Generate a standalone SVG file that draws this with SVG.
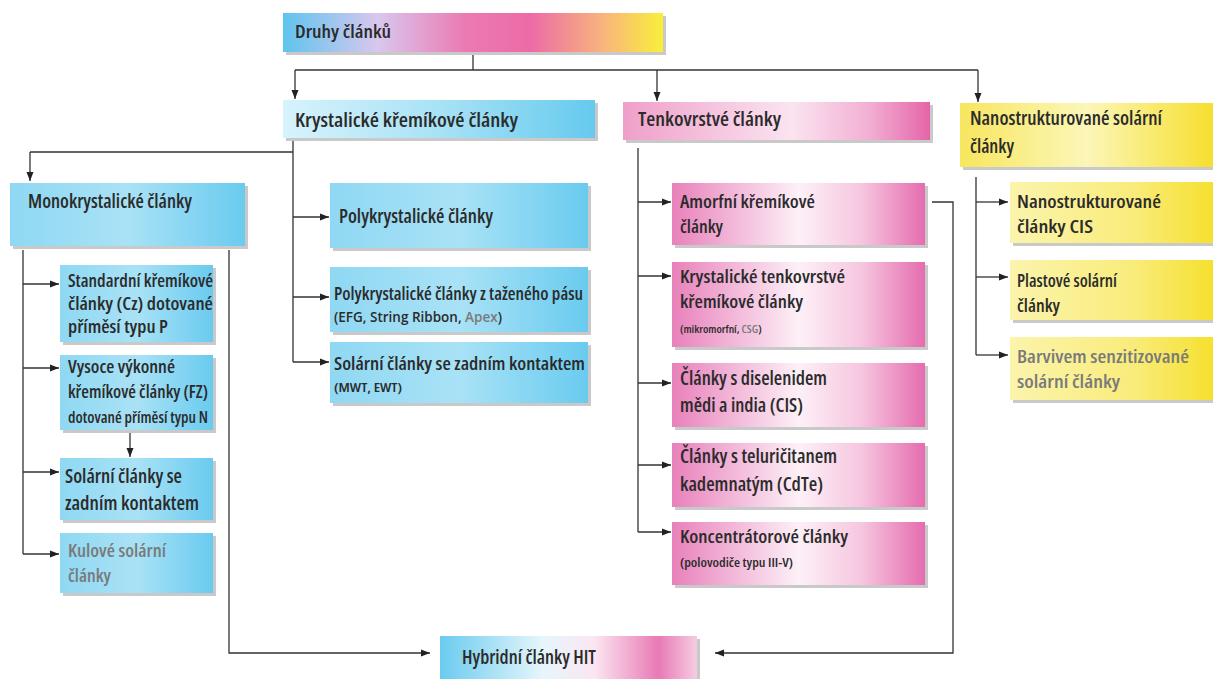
<svg xmlns="http://www.w3.org/2000/svg" width="1213" height="679" viewBox="0 0 1213 679">
<defs>
<style>
text{font-family:"Open Sans","Liberation Sans",sans-serif;font-weight:600;font-stretch:80%;fill:#2b2b2b}
.h{font-size:19px}
.t{font-size:18px}
.s{font-size:12.5px}
.g{fill:#7a7a7a}
.sh{fill:#c9c9c9}
.c{fill:none;stroke:#333;stroke-width:1.3}
</style>
<linearGradient id="gTop" x1="0" x2="1" y1="0" y2="0">
<stop offset="0" stop-color="#5fc4ee"/><stop offset="0.25" stop-color="#d9c7ee"/><stop offset="0.48" stop-color="#eb7ab3"/><stop offset="0.65" stop-color="#ec6ba7"/><stop offset="0.85" stop-color="#f9b77a"/><stop offset="1" stop-color="#f9ef3a"/>
</linearGradient>
<linearGradient id="gKry" x1="0" x2="1" y1="0" y2="0">
<stop offset="0" stop-color="#d7f3fc"/><stop offset="0.5" stop-color="#a8e2f6"/><stop offset="1" stop-color="#66caee"/>
</linearGradient>
<linearGradient id="gBlue" x1="0" x2="1" y1="0" y2="0">
<stop offset="0" stop-color="#8fd8f3"/><stop offset="0.5" stop-color="#a9e2f6"/><stop offset="1" stop-color="#6acbef"/>
</linearGradient>
<linearGradient id="gPinkH" x1="0" x2="1" y1="0" y2="0">
<stop offset="0" stop-color="#ef9fc9"/><stop offset="0.55" stop-color="#fbe4f0"/><stop offset="0.8" stop-color="#f2b0d3"/><stop offset="1" stop-color="#e465a9"/>
</linearGradient>
<linearGradient id="gPink" x1="0" x2="1" y1="0" y2="0">
<stop offset="0" stop-color="#e881bb"/><stop offset="0.5" stop-color="#fdf0f7"/><stop offset="0.75" stop-color="#f6c6df"/><stop offset="1" stop-color="#e56caf"/>
</linearGradient>
<linearGradient id="gYelH" x1="0" x2="1" y1="0" y2="0">
<stop offset="0" stop-color="#f7e65e"/><stop offset="0.5" stop-color="#fcf6b8"/><stop offset="1" stop-color="#f6df2e"/>
</linearGradient>
<linearGradient id="gYel" x1="0" x2="1" y1="0" y2="0">
<stop offset="0" stop-color="#fbf4ac"/><stop offset="0.6" stop-color="#f9ec7c"/><stop offset="1" stop-color="#f6e02f"/>
</linearGradient>
<linearGradient id="gHyb" x1="0" x2="1" y1="0" y2="0">
<stop offset="0" stop-color="#6acbef"/><stop offset="0.4" stop-color="#e6f6fc"/><stop offset="0.6" stop-color="#fbe6f1"/><stop offset="0.85" stop-color="#e87ab5"/><stop offset="1" stop-color="#f5cde2"/>
</linearGradient>
<marker id="ar" markerWidth="10" markerHeight="8" refX="9" refY="4" orient="auto" markerUnits="userSpaceOnUse">
<path d="M0,0.5 L9,4 L0,7.5 Z" fill="#222"/>
</marker>
</defs>

<g id="connectors">
<path class="c" d="M473,55 V70 M295,70 H978"/>
<path class="c" d="M295,70 V99" marker-end="url(#ar)"/>
<path class="c" d="M657,70 V101" marker-end="url(#ar)"/>
<path class="c" d="M978,70 V102" marker-end="url(#ar)"/>
<path class="c" d="M293,141 V362 M293,152 H30"/>
<path class="c" d="M30,152 V181" marker-end="url(#ar)"/>
<path class="c" d="M293,217 H329" marker-end="url(#ar)"/>
<path class="c" d="M293,297 H329" marker-end="url(#ar)"/>
<path class="c" d="M293,362 H329" marker-end="url(#ar)"/>
<path class="c" d="M23,250 V554"/>
<path class="c" d="M23,284 H59" marker-end="url(#ar)"/>
<path class="c" d="M23,368 H59" marker-end="url(#ar)"/>
<path class="c" d="M23,472 H59" marker-end="url(#ar)"/>
<path class="c" d="M23,554 H59" marker-end="url(#ar)"/>
<path class="c" d="M130,432 V457" marker-end="url(#ar)"/>
<path class="c" d="M229,250 V653 H430" marker-end="url(#ar)"/>
<path class="c" d="M638,148 V532"/>
<path class="c" d="M638,202 H671" marker-end="url(#ar)"/>
<path class="c" d="M638,276 H671" marker-end="url(#ar)"/>
<path class="c" d="M638,383 H671" marker-end="url(#ar)"/>
<path class="c" d="M638,465 H671" marker-end="url(#ar)"/>
<path class="c" d="M638,532 H671" marker-end="url(#ar)"/>
<path class="c" d="M932,202 H953 V653 H715" marker-end="url(#ar)"/>
<path class="c" d="M976,177 V355"/>
<path class="c" d="M976,202 H1008" marker-end="url(#ar)"/>
<path class="c" d="M976,277 H1008" marker-end="url(#ar)"/>
<path class="c" d="M976,355 H1008" marker-end="url(#ar)"/>
</g>

<g id="n-druhy">
<rect class="sh" x="286" y="16" width="380" height="39"/>
<rect x="283" y="13" width="380" height="39" fill="url(#gTop)"/>
<text class="h" x="295" y="38" style="font-size:18px" textLength="96" lengthAdjust="spacingAndGlyphs">Druhy článků</text>
</g>

<g id="n-krystalicke">
<rect class="sh" x="286" y="103" width="312" height="38"/>
<rect x="283" y="100" width="312" height="38" fill="url(#gKry)"/>
<text class="h" x="295" y="127" textLength="223" lengthAdjust="spacingAndGlyphs">Krystalické křemíkové články</text>
</g>

<g id="n-tenkovrstve">
<rect class="sh" x="626" y="105" width="307" height="38"/>
<rect x="623" y="102" width="307" height="38" fill="url(#gPinkH)"/>
<text class="h" x="638" y="126" textLength="143" lengthAdjust="spacingAndGlyphs">Tenkovrstvé články</text>
</g>

<g id="n-nano">
<rect class="sh" x="963" y="106" width="250" height="64"/>
<rect x="960" y="103" width="253" height="64" fill="url(#gYelH)"/>
<text class="h" x="970" y="125" textLength="192" lengthAdjust="spacingAndGlyphs">Nanostrukturované solární</text>
<text class="h" x="970" y="153" textLength="44" lengthAdjust="spacingAndGlyphs">články</text>
</g>

<g id="n-mono">
<rect class="sh" x="13" y="186" width="235" height="63"/>
<rect x="10" y="183" width="235" height="63" fill="url(#gBlue)"/>
<text class="h" x="28" y="208" textLength="164" lengthAdjust="spacingAndGlyphs">Monokrystalické články</text>
</g>

<g id="n-standardni">
<rect class="sh" x="63" y="268" width="153" height="77"/>
<rect x="60" y="265" width="153" height="77" fill="url(#gBlue)"/>
<text class="t" x="68" y="287" textLength="145" lengthAdjust="spacingAndGlyphs">Standardní křemíkové</text>
<text class="t" x="68" y="310" textLength="145" lengthAdjust="spacingAndGlyphs">články (Cz) dotované</text>
<text class="t" x="68" y="333" textLength="100" lengthAdjust="spacingAndGlyphs">příměsí typu P</text>
</g>

<g id="n-vysoce">
<rect class="sh" x="63" y="358" width="153" height="75"/>
<rect x="60" y="355" width="153" height="75" fill="url(#gBlue)"/>
<text class="t" x="68" y="373" textLength="107" lengthAdjust="spacingAndGlyphs">Vysoce výkonné</text>
<text class="t" x="68" y="398" textLength="140" lengthAdjust="spacingAndGlyphs">křemíkové články (FZ)</text>
<text class="t" x="68" y="423" style="font-size:16px" textLength="140" lengthAdjust="spacingAndGlyphs">dotované příměsí typu N</text>
</g>

<g id="n-solarni-mono">
<rect class="sh" x="63" y="461" width="153" height="62"/>
<rect x="60" y="458" width="153" height="62" fill="url(#gBlue)"/>
<text class="t" x="65" y="483" style="font-size:19px" textLength="117" lengthAdjust="spacingAndGlyphs">Solární články se</text>
<text class="t" x="65" y="510" style="font-size:19px" textLength="134" lengthAdjust="spacingAndGlyphs">zadním kontaktem</text>
</g>

<g id="n-kulove">
<rect class="sh" x="63" y="536" width="153" height="60"/>
<rect x="60" y="533" width="153" height="60" fill="url(#gBlue)"/>
<text class="t g" x="68" y="557" textLength="98" lengthAdjust="spacingAndGlyphs">Kulové solární</text>
<text class="t g" x="68" y="582" textLength="43" lengthAdjust="spacingAndGlyphs">články</text>
</g>

<g id="n-poly">
<rect class="sh" x="333" y="186" width="258" height="65"/>
<rect x="330" y="183" width="258" height="65" fill="url(#gBlue)"/>
<text class="t" x="339" y="223" style="font-size:19px" textLength="154" lengthAdjust="spacingAndGlyphs">Polykrystalické články</text>
</g>

<g id="n-poly-pas">
<rect class="sh" x="333" y="270" width="258" height="65"/>
<rect x="330" y="267" width="258" height="65" fill="url(#gBlue)"/>
<text class="t" x="334" y="300" textLength="249" lengthAdjust="spacingAndGlyphs">Polykrystalické články z taženého pásu</text>
<text class="s" x="334" y="322" style="font-size:13.5px;font-stretch:88%">(EFG, String Ribbon, <tspan class="g">Apex</tspan>)</text>
</g>

<g id="n-solarni-poly">
<rect class="sh" x="333" y="345" width="258" height="61"/>
<rect x="330" y="342" width="258" height="61" fill="url(#gBlue)"/>
<text class="t" x="334" y="370" textLength="251" lengthAdjust="spacingAndGlyphs">Solární články se zadním kontaktem</text>
<text class="s" x="334" y="392" textLength="68" lengthAdjust="spacingAndGlyphs">(MWT, EWT)</text>
</g>

<g id="n-amorfni">
<rect class="sh" x="675" y="186" width="253" height="62"/>
<rect x="672" y="183" width="253" height="62" fill="url(#gPink)"/>
<text class="t" x="680" y="208" textLength="135" lengthAdjust="spacingAndGlyphs">Amorfní křemíkové</text>
<text class="t" x="680" y="233" textLength="43" lengthAdjust="spacingAndGlyphs">články</text>
</g>

<g id="n-kryst-tenko">
<rect class="sh" x="675" y="265" width="253" height="85"/>
<rect x="672" y="262" width="253" height="85" fill="url(#gPink)"/>
<text class="t" x="680" y="283" textLength="165" lengthAdjust="spacingAndGlyphs">Krystalické tenkovrstvé</text>
<text class="t" x="680" y="308" textLength="123" lengthAdjust="spacingAndGlyphs">křemíkové články</text>
<text class="s" x="680" y="333" style="font-size:11.5px;font-stretch:75%">(mikromorfní, <tspan class="g">CSG</tspan>)</text>
</g>

<g id="n-cis">
<rect class="sh" x="675" y="366" width="253" height="64"/>
<rect x="672" y="363" width="253" height="64" fill="url(#gPink)"/>
<text class="t" x="680" y="385" style="font-size:19px" textLength="147" lengthAdjust="spacingAndGlyphs">Články s diselenidem</text>
<text class="t" x="680" y="412" style="font-size:19px" textLength="123" lengthAdjust="spacingAndGlyphs">mědi a india (CIS)</text>
</g>

<g id="n-cdte">
<rect class="sh" x="675" y="446" width="253" height="64"/>
<rect x="672" y="443" width="253" height="64" fill="url(#gPink)"/>
<text class="t" x="680" y="463" style="font-size:19px" textLength="157" lengthAdjust="spacingAndGlyphs">Články s teluričitanem</text>
<text class="t" x="680" y="491" style="font-size:19px" textLength="143" lengthAdjust="spacingAndGlyphs">kademnatým (CdTe)</text>
</g>

<g id="n-koncentr">
<rect class="sh" x="675" y="525" width="253" height="63"/>
<rect x="672" y="522" width="253" height="63" fill="url(#gPink)"/>
<text class="t" x="680" y="543" textLength="168" lengthAdjust="spacingAndGlyphs">Koncentrátorové články</text>
<text class="s" x="680" y="567" textLength="113" lengthAdjust="spacingAndGlyphs">(polovodiče typu III-V)</text>
</g>

<g id="n-nano-cis">
<rect class="sh" x="1013" y="185" width="200" height="61"/>
<rect x="1010" y="182" width="203" height="61" fill="url(#gYel)"/>
<text class="t" x="1017" y="208" textLength="144" lengthAdjust="spacingAndGlyphs">Nanostrukturované</text>
<text class="t" x="1017" y="233" textLength="76" lengthAdjust="spacingAndGlyphs">články CIS</text>
</g>

<g id="n-plastove">
<rect class="sh" x="1013" y="263" width="200" height="60"/>
<rect x="1010" y="260" width="203" height="60" fill="url(#gYel)"/>
<text class="t" x="1017" y="287" textLength="100" lengthAdjust="spacingAndGlyphs">Plastové solární</text>
<text class="t" x="1017" y="312" textLength="43" lengthAdjust="spacingAndGlyphs">články</text>
</g>

<g id="n-barvivem">
<rect class="sh" x="1013" y="340" width="200" height="63"/>
<rect x="1010" y="337" width="203" height="63" fill="url(#gYel)"/>
<text class="t g" x="1017" y="363" textLength="172" lengthAdjust="spacingAndGlyphs">Barvivem senzitizované</text>
<text class="t g" x="1017" y="388" textLength="103" lengthAdjust="spacingAndGlyphs">solární články</text>
</g>

<g id="n-hybridni">
<rect class="sh" x="443" y="639" width="257" height="45"/>
<rect x="440" y="636" width="257" height="45" fill="url(#gHyb)"/>
<text class="h" x="462" y="664" textLength="134" lengthAdjust="spacingAndGlyphs">Hybridní články HIT</text>
</g>
</svg>
